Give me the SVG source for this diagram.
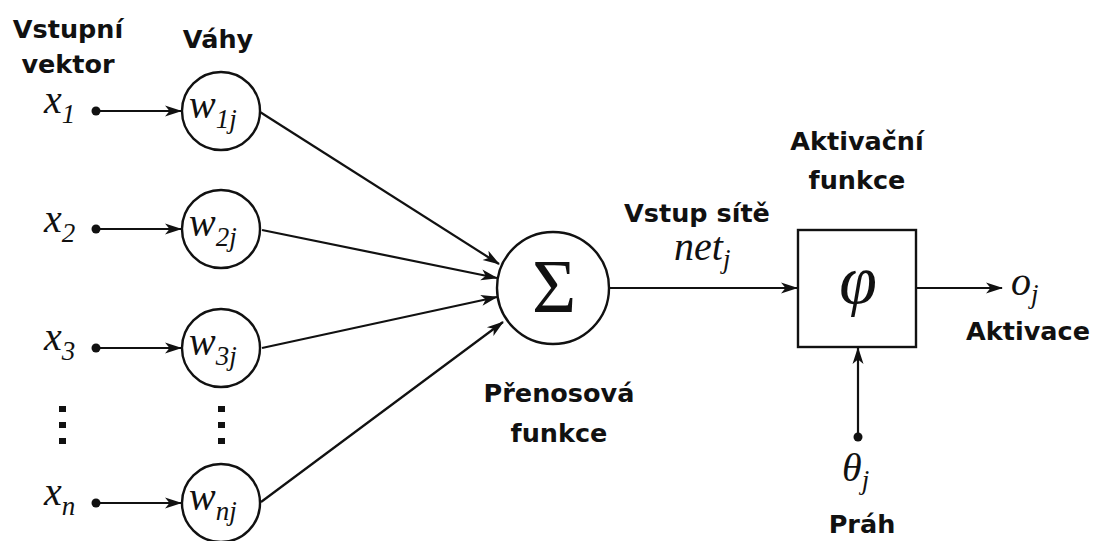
<svg xmlns="http://www.w3.org/2000/svg" width="1099" height="541" viewBox="0 0 1099 541">
<style>
.lbl{font-family:"DejaVu Sans",sans-serif;font-weight:bold;font-size:25.5px;fill:#111;text-anchor:middle}
.m{font-family:"Liberation Serif",serif;font-style:italic;font-size:40px;fill:#111}
.sub{font-size:27px}
.node{fill:#fff;stroke:#111;stroke-width:2.4}
.c{stroke:#111;stroke-width:2.2;fill:none}
.dot{fill:#111}
</style>
<defs>
<marker id="ah" markerWidth="18" markerHeight="14" refX="16" refY="7" orient="auto" markerUnits="userSpaceOnUse">
<path d="M0,1.5 L17,7 L0,12.5 L4.5,7 Z" fill="#111"/>
</marker>
</defs>
<rect width="1099" height="541" fill="#fff"/>

<g id="labels">
<text class="lbl" x="68" y="38">Vstupní</text>
<text class="lbl" x="68" y="73">vektor</text>
<text class="lbl" x="218" y="48">Váhy</text>
<text class="lbl" x="697" y="222">Vstup sítě</text>
<text class="lbl" x="559" y="402">Přenosová</text>
<text class="lbl" x="559" y="442">funkce</text>
<text class="lbl" x="857" y="150">Aktivační</text>
<text class="lbl" x="857" y="189">funkce</text>
<text class="lbl" x="1028" y="340">Aktivace</text>
<text class="lbl" x="862" y="533">Práh</text>
</g>

<g id="connectors">
<line class="c" x1="96" y1="111" x2="181" y2="111" marker-end="url(#ah)"/>
<line class="c" x1="96" y1="229" x2="181" y2="229" marker-end="url(#ah)"/>
<line class="c" x1="96" y1="348" x2="181" y2="348" marker-end="url(#ah)"/>
<line class="c" x1="96" y1="503" x2="181" y2="503" marker-end="url(#ah)"/>
<line class="c" x1="260" y1="112" x2="499" y2="264" marker-end="url(#ah)"/>
<line class="c" x1="262" y1="230" x2="497" y2="278" marker-end="url(#ah)"/>
<line class="c" x1="262" y1="348" x2="497" y2="297" marker-end="url(#ah)"/>
<line class="c" x1="261" y1="502" x2="503" y2="322" marker-end="url(#ah)"/>
<line class="c" x1="610" y1="288" x2="797" y2="288" marker-end="url(#ah)"/>
<line class="c" x1="917" y1="288" x2="1002" y2="288" marker-end="url(#ah)"/>
<line class="c" x1="858" y1="437" x2="858" y2="348" marker-end="url(#ah)"/>
</g>

<g id="inputs">
<circle class="dot" cx="96" cy="111" r="4.5"/>
<circle class="dot" cx="96" cy="229" r="4.5"/>
<circle class="dot" cx="96" cy="348" r="4.5"/>
<circle class="dot" cx="96" cy="503" r="4.5"/>
<text class="m" x="44" y="113">x<tspan class="sub" dy="10">1</tspan></text>
<text class="m" x="44" y="232">x<tspan class="sub" dy="10">2</tspan></text>
<text class="m" x="44" y="350">x<tspan class="sub" dy="10">3</tspan></text>
<text class="m" x="44" y="505">x<tspan class="sub" dy="10">n</tspan></text>
<rect class="dot" x="59" y="406" width="7" height="6"/>
<rect class="dot" x="59" y="422" width="7" height="6"/>
<rect class="dot" x="59" y="438" width="7" height="6"/>
</g>

<g id="w1j">
<circle class="node" cx="221" cy="111" r="39"/>
<text class="m" x="189" y="118">w<tspan class="sub" dy="10">1j</tspan></text>
</g>
<g id="w2j">
<circle class="node" cx="221" cy="229" r="39"/>
<text class="m" x="189" y="236">w<tspan class="sub" dy="10">2j</tspan></text>
</g>
<g id="w3j">
<circle class="node" cx="221" cy="348" r="39"/>
<text class="m" x="189" y="355">w<tspan class="sub" dy="10">3j</tspan></text>
</g>
<g id="wdots">
<rect class="dot" x="218" y="406" width="7" height="6"/>
<rect class="dot" x="218" y="422" width="7" height="6"/>
<rect class="dot" x="218" y="438" width="7" height="6"/>
</g>
<g id="wnj">
<circle class="node" cx="221" cy="503" r="39"/>
<text class="m" x="189" y="510">w<tspan class="sub" dy="10">nj</tspan></text>
</g>

<g id="sum">
<circle class="node" cx="553" cy="288" r="56"/>
<text x="554" y="312" style="font-family:'Liberation Serif',serif;font-size:76px;fill:#111;text-anchor:middle">Σ</text>
</g>
<text class="m" x="674" y="260">net<tspan class="sub" dy="8">j</tspan></text>

<g id="activation">
<rect class="node" x="798" y="230" width="118" height="117"/>
<text x="858" y="303" style="font-family:'Liberation Serif',serif;font-style:italic;font-size:68px;fill:#111;text-anchor:middle">φ</text>
</g>
<text class="m" x="1011" y="295">o<tspan class="sub" dy="8">j</tspan></text>

<g id="threshold">
<circle class="dot" cx="858" cy="437" r="4.5"/>
<text class="m" x="842" y="481">θ<tspan class="sub" dy="8">j</tspan></text>
</g>
</svg>
